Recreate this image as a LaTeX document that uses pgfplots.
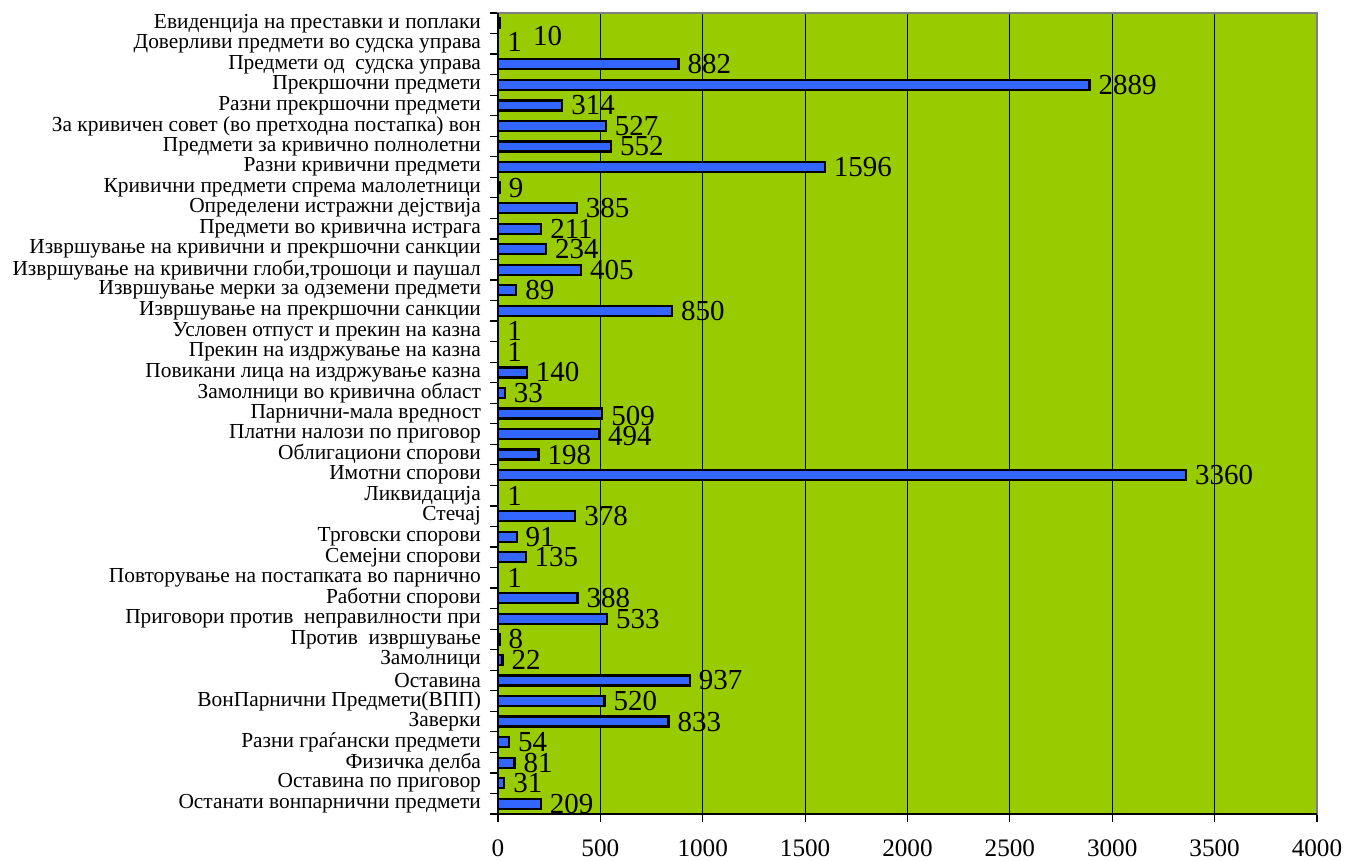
\documentclass[border=0pt]{standalone}
\usepackage{pgfplots}
\usepackage{pgfplotstable}
\pgfplotsset{compat=1.18}
\usepackage{fontspec}
\setmainfont{Liberation Serif}
\definecolor{bg}{RGB}{153,204,0}
\definecolor{barblue}{RGB}{51,102,255}
\definecolor{bordergray}{RGB}{128,128,128}
\pgfplotstableread{
i v dx dy
0 10 12 -6.3
1 1 0 1
2 882 0 0
3 2889 0 0
4 314 0 0
5 527 0 0
6 552 0 0
7 1596 0 0
8 9 0 0
9 385 0 0
10 211 0 0
11 234 0 0
12 405 0 0
13 89 0 0
14 850 0 0
15 1 0 0
16 1 0 0
17 140 0 0
18 33 0 0
19 509 0 -1
20 494 0 -1
21 198 0 0
22 3360 0 0
23 1 0 0
24 378 0 0
25 91 0 0
26 135 0 0
27 1 0 0
28 388 0 0
29 533 0 0
30 8 0 0
31 22 0 0
32 937 0 0
33 520 0 0
34 833 0 0
35 54 0 0
36 81 0 0
37 31 0 0
38 209 0 0
}\data
\begin{document}
\begin{tikzpicture}
\path[use as bounding box] (0,0) rectangle (672.5pt,430.5pt);
\begin{axis}[
  at={(249pt,23.5pt)}, anchor=south west,
  scale only axis, width=409.5pt, height=400.5pt,
  xbar, bar width=5pt,
  xmin=0, xmax=4000, ymin=-0.5, ymax=38.5,
  y dir=reverse,
  clip=false,
  axis background/.style={fill=bg},
  axis line style={draw=bordergray, line width=0.8pt},
  xtick={0,500,...,4000},
  xmajorgrids, major grid style={black, line width=0.5pt},
  scaled ticks=false,
  /pgf/number format/assume math mode=true,
  /pgf/number format/1000 sep={},
  tick align=outside, xtick pos=left, ytick pos=left,
  major tick length=4pt,
  tick style={black, line width=0.6pt},
  xticklabel style={font=\fontsize{12.6}{14}\selectfont, yshift=-5.5pt},
  ytick={-0.5,0.5,...,38.5},
  yticklabels={
    Евиденција на преставки и поплаки,
    Доверливи предмети во судска управа,
    Предмети од\ \ судска управа,
    Прекршочни предмети,
    Разни прекршочни предмети,
    За кривичен совет (во претходна постапка) вон,
    Предмети за кривично полнолетни,
    Разни кривични предмети,
    Кривични предмети спрема малолетници,
    Определени истражни дејствија,
    Предмети во кривична истрага,
    Извршување на кривични и прекршочни санкции,
    {Извршување на кривични глоби,трошоци и паушал},
    Извршување мерки за одземени предмети,
    Извршување на прекршочни санкции,
    Условен отпуст и прекин на казна,
    Прекин на издржување на казна,
    Повикани лица на издржување казна,
    Замолници во кривична област,
    Парнични-мала вредност,
    Платни налози по приговор,
    Облигациони спорови,
    Имотни спорови,
    Ликвидација,
    Стечај,
    Трговски спорови,
    Семејни спорови,
    Повторување на постапката во парнично,
    Работни спорови,
    Приговори против\ \ неправилности при,
    Против\ \ извршување,
    Замолници,
    Оставина,
    ВонПарнични Предмети(ВПП),
    Заверки,
    Разни граѓански предмети,
    Физичка делба,
    Оставина по приговор,
    Останати вонпарнични предмети,
    {}},
  yticklabel style={font=\fontsize{10.7}{12}\selectfont, yshift=-5.13pt, xshift=-1pt},
  nodes near coords,
  point meta=explicit symbolic,
  visualization depends on={\thisrow{dx} \as \dx},
  visualization depends on={\thisrow{dy} \as \dy},
  every node near coord/.append style={anchor=west, inner sep=0pt,
     xshift=4pt+\dx pt, yshift=\dy pt, font=\fontsize{14.5}{16}\selectfont, black},
]
\addplot[draw=black, line width=1.1pt, fill=barblue] table[x=v, y=i, meta=v] {\data};
\draw[black, line width=0.8pt] (rel axis cs:0,1) -- (rel axis cs:0,0) -- (rel axis cs:1,0);
\end{axis}
\end{tikzpicture}
\end{document}
